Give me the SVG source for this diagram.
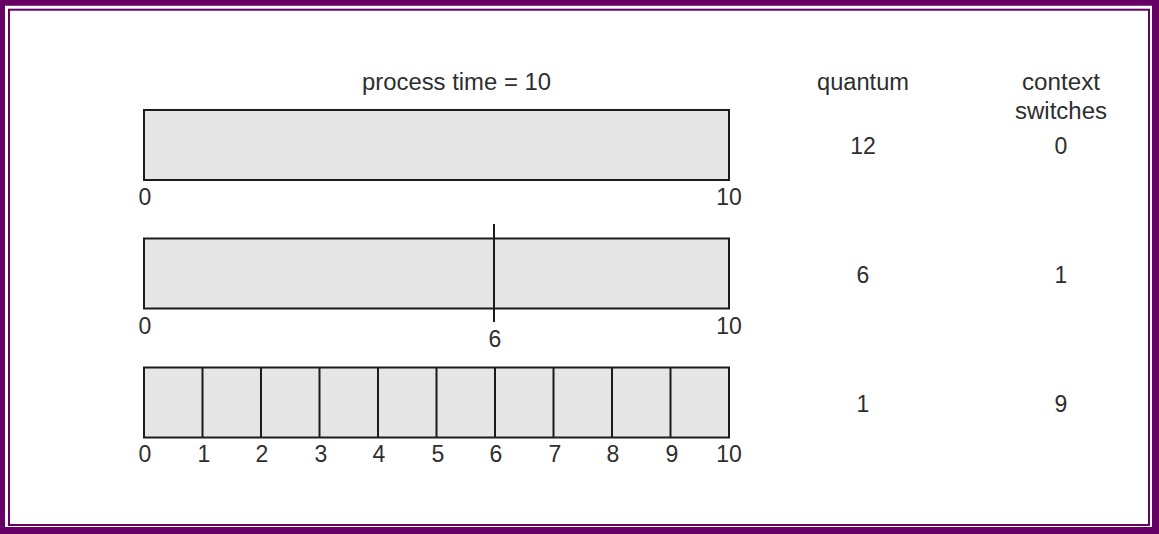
<svg xmlns="http://www.w3.org/2000/svg" width="1159" height="534" viewBox="0 0 1159 534">
<style>
.bar{fill:#e6e6e6;stroke:#1c1c1c;stroke-width:2}
.tick{stroke:#1c1c1c;stroke-width:2}
text{font-family:"Liberation Sans",Arial,sans-serif;font-size:23px;fill:#2e2e2e;text-anchor:middle}
.l{text-anchor:start}
</style>
<rect x="0" y="0" width="1159" height="534" fill="#ffffff"/>
<g id="frame">
<path d="M0 0H1159V534H0Z M5 5.7V527H1152V5.7Z" fill="#660066" fill-rule="evenodd"/>
<rect x="9" y="9.7" width="1140" height="515.3" fill="none" stroke="#660066" stroke-width="2"/>
</g>
<g id="headers">
<text class="l" x="362" y="90" textLength="189" lengthAdjust="spacingAndGlyphs">process time = 10</text>
<text x="863" y="90" textLength="92" lengthAdjust="spacingAndGlyphs">quantum</text>
<text x="1061" y="90" textLength="78" lengthAdjust="spacingAndGlyphs">context</text>
<text x="1061" y="119" textLength="92" lengthAdjust="spacingAndGlyphs">switches</text>
</g>
<g id="row1">
<rect class="bar" x="144" y="110" width="585" height="70"/>
<text x="145" y="205">0</text>
<text x="729" y="205">10</text>
<text x="863" y="154">12</text>
<text x="1061" y="154">0</text>
</g>
<g id="row2">
<rect class="bar" x="144" y="238.5" width="585" height="70"/>
<line class="tick" x1="494" y1="224" x2="494" y2="322"/>
<text x="145" y="334">0</text>
<text x="495" y="347">6</text>
<text x="729" y="334">10</text>
<text x="863" y="283">6</text>
<text x="1061" y="283">1</text>
</g>
<g id="row3">
<rect class="bar" x="144" y="367.5" width="585" height="70"/>
<g class="tick">
<line x1="202.5" y1="367.5" x2="202.5" y2="437.5"/>
<line x1="261" y1="367.5" x2="261" y2="437.5"/>
<line x1="319.5" y1="367.5" x2="319.5" y2="437.5"/>
<line x1="378" y1="367.5" x2="378" y2="437.5"/>
<line x1="436.5" y1="367.5" x2="436.5" y2="437.5"/>
<line x1="495" y1="367.5" x2="495" y2="437.5"/>
<line x1="553.5" y1="367.5" x2="553.5" y2="437.5"/>
<line x1="612" y1="367.5" x2="612" y2="437.5"/>
<line x1="670.5" y1="367.5" x2="670.5" y2="437.5"/>
</g>
<text x="145" y="462">0</text>
<text x="204" y="462">1</text>
<text x="262" y="462">2</text>
<text x="321" y="462">3</text>
<text x="379" y="462">4</text>
<text x="438" y="462">5</text>
<text x="496" y="462">6</text>
<text x="555" y="462">7</text>
<text x="613" y="462">8</text>
<text x="672" y="462">9</text>
<text x="729" y="462">10</text>
<text x="863" y="412">1</text>
<text x="1061" y="412">9</text>
</g>
</svg>
